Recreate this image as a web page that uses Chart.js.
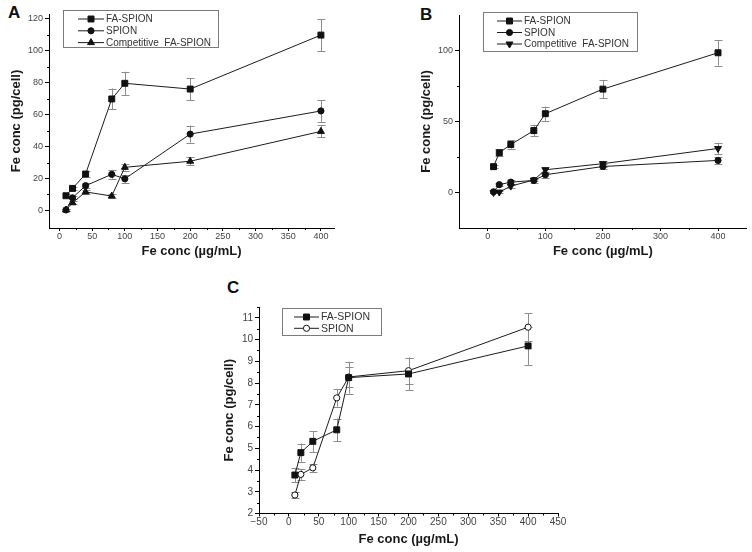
<!DOCTYPE html>
<html>
<head>
<meta charset="utf-8">
<script src="https://cdn.jsdelivr.net/npm/chart.js@4.4.0/dist/chart.umd.min.js"></script>
<style>
  body { margin: 0; background: #fff; width: 752px; height: 552px; position: relative; overflow: hidden; }
  .panel { position: absolute; }
  .letter { position: absolute; font: bold 17px 'Liberation Sans', Arial, sans-serif; color: #111; }
</style>
</head>
<body>
<div class="letter" style="left:8px;top:3px">A</div>
<div class="letter" style="left:420px;top:5px">B</div>
<div class="letter" style="left:227px;top:278px">C</div>

<div class="panel" style="left:0;top:0;width:376px;height:268px"><canvas id="chartA"></canvas></div>
<div class="panel" style="left:380px;top:0;width:372px;height:268px"><canvas id="chartB"></canvas></div>
<div class="panel" style="left:200px;top:270px;width:380px;height:282px"><canvas id="chartC"></canvas></div>

<script>
// values
var doses = [10, 20, 40, 80, 100, 200, 400];

// panel A
var aFa = [9.2, 13.8, 22.8, 69.8, 79.6, 76, 109.8];
var aFaErr = [0.8, 1, 1.8, 6.5, 7.2, 6.8, 10];
var aSpion = [0.3, 7.9, 15.5, 22.6, 19.8, 47.8, 62.3];
var aSpionErr = [0.5, 1, 1.5, 2.8, 2.5, 5.3, 6.8];
var aComp = [0.3, 4.8, 11.6, 9, 27, 30.8, 49.5];
var aCompErr = [0.5, 1, 1, 1, 2, 2.6, 3.8];

// panel B
var bFa = [18.2, 28, 33.8, 43.6, 55.5, 72.8, 98.4];
var bFaErr = [1, 2.5, 3, 4, 5, 6.5, 9];
var bSpion = [0.5, 5.5, 7.3, 8.5, 12.5, 18.3, 22.6];
var bSpionErr = [0.5, 1, 1.5, 1.5, 2, 2, 2.5];
var bComp = [0, 0.3, 4.5, 8.8, 16, 20.3, 31];
var bCompErr = [0.5, 0.5, 1, 1, 2, 2, 4];

// panel C
var cFa = [3.77, 4.8, 5.32, 5.85, 8.25, 8.42, 9.71];
var cFaErr = [0.32, 0.42, 0.48, 0.52, 0.73, 0.75, 0.87];
var cSpion = [2.85, 3.8, 4.1, 7.32, 8.28, 8.57, 10.57];
var cSpionErr = [0.15, 0.25, 0.2, 0.41, 0.46, 0.6, 0.65];

// tick labels
var aXTicks = [0, 50, 100, 150, 200, 250, 300, 350, 400];
var aXMinor = [25, 75, 125, 175, 225, 275, 325, 375];
var aYTicks = [0, 20, 40, 60, 80, 100, 120];
var aYMinor = [10, 30, 50, 70, 90, 110];
var bXTicks = [0, 100, 200, 300, 400];
var bXMinor = [50, 150, 250, 350];
var bYTicks = [0, 50, 100];
var bYMinor = [25, 75];
var cXTicks = [-50, 0, 50, 100, 150, 200, 250, 300, 350, 400, 450];
var cXMinor = [-25, 25, 75, 125, 175, 225, 275, 325, 375, 425];
var cYTicks = [2, 3, 4, 5, 6, 7, 8, 9, 10, 11];
var cYMinor = [2.5, 3.5, 4.5, 5.5, 6.5, 7.5, 8.5, 9.5, 10.5, 11.5];

var FONT = "'Liberation Sans', Arial, sans-serif";
Chart.defaults.font.family = FONT;
Chart.defaults.animation = false;

// vertical error bars, drawn under the markers
var errorBars = {
  id: 'errorBars',
  beforeDatasetsDraw: function(chart) {
    var ctx = chart.ctx, xs = chart.scales.x, ys = chart.scales.y;
    ctx.save();
    ctx.strokeStyle = '#8c8c8c';
    ctx.lineWidth = 1;
    chart.data.datasets.forEach(function(ds) {
      if (!ds.errors) return;
      ds.data.forEach(function(p, i) {
        var px = Math.round(xs.getPixelForValue(p.x)) + 0.5;
        var t = ys.getPixelForValue(p.y + ds.errors[i]);
        var b = ys.getPixelForValue(p.y - ds.errors[i]);
        ctx.beginPath();
        ctx.moveTo(px, t); ctx.lineTo(px, b);
        ctx.moveTo(px - 4, Math.round(t) + 0.5); ctx.lineTo(px + 4, Math.round(t) + 0.5);
        ctx.moveTo(px - 4, Math.round(b) + 0.5); ctx.lineTo(px + 4, Math.round(b) + 0.5);
        ctx.stroke();
      });
    });
    ctx.restore();
  }
};

// short minor ticks on both axes
var minorTicks = {
  id: 'minorTicks',
  afterDraw: function(chart, args, opts) {
    var ctx = chart.ctx, xs = chart.scales.x, ys = chart.scales.y, a = chart.chartArea;
    ctx.save();
    ctx.strokeStyle = '#000';
    ctx.lineWidth = 1;
    ctx.beginPath();
    (opts.x || []).forEach(function(v) {
      var px = Math.round(xs.getPixelForValue(v)) + 0.5;
      ctx.moveTo(px, a.bottom); ctx.lineTo(px, a.bottom + 2);
    });
    (opts.y || []).forEach(function(v) {
      var py = Math.round(ys.getPixelForValue(v)) + 0.5;
      ctx.moveTo(a.left, py); ctx.lineTo(a.left - 2, py);
    });
    ctx.stroke();
    ctx.restore();
  }
};

// framed legend inside the plot
var boxLegend = {
  id: 'boxLegend',
  afterDraw: function(chart, args, o) {
    var ctx = chart.ctx;
    ctx.save();
    ctx.strokeStyle = '#7a7a7a';
    ctx.lineWidth = 1;
    ctx.strokeRect(Math.round(o.x) + 0.5, Math.round(o.y) + 0.5, o.w, o.h);
    ctx.font = o.fontSize + 'px ' + FONT;
    ctx.textBaseline = 'middle';
    chart.data.datasets.forEach(function(ds, i) {
      var cy = o.y + o.first + i * o.row;
      ctx.strokeStyle = '#1c1c1c';
      ctx.beginPath();
      ctx.moveTo(o.lineX0, cy); ctx.lineTo(o.lineX1, cy);
      ctx.stroke();
      ctx.fillStyle = ds.pointBackgroundColor;
      ctx.strokeStyle = ds.pointBorderColor;
      Chart.helpers.drawPoint(ctx, {
        pointStyle: ds.pointStyle, rotation: ds.pointRotation,
        radius: ds.pointRadius, borderWidth: 1
      }, (o.lineX0 + o.lineX1) / 2, cy);
      ctx.fillStyle = '#333';
      ctx.fillText(ds.label, o.textX, cy + 0.5);
    });
    ctx.restore();
  }
};

function series(label, ys, errs, style, rot, fill) {
  var r = style === 'rect' ? 4.2 : (style === 'triangle' ? 4 : 3.1);
  return {
    label: label,
    data: doses.map(function(x, i) { return {x: x, y: ys[i]}; }),
    errors: errs,
    borderColor: '#1c1c1c',
    borderWidth: 1,
    pointStyle: style,
    pointRotation: rot || 0,
    pointRadius: r,
    pointBackgroundColor: fill || '#111',
    pointBorderColor: '#111',
    pointBorderWidth: 1,
    tension: 0
  };
}

function fmt(v) { return v < 0 ? '\u2212' + (-v) : String(v); }

function axis(c, dir) {
  var isX = dir === 'x';
  return {
    type: 'linear',
    min: c[dir + 'Min'],
    max: c[dir + 'Max'],
    afterBuildTicks: function(s) { s.ticks = c[dir + 'Ticks'].map(function(v) { return {value: v}; }); },
    afterFit: function(s) { if (isX) s.height = c.xH; else s.width = c.yW; },
    ticks: { callback: fmt, autoSkip: false, maxRotation: 0, color: '#444', font: {size: c.tickSize}, padding: isX ? 0 : 2 },
    grid: { drawOnChartArea: false, tickLength: isX ? 3 : 4, color: '#000', tickColor: '#000' },
    border: { color: '#000', width: 1 },
    title: {
      display: true,
      text: isX ? 'Fe conc (\u00b5g/mL)' : 'Fe conc (pg/cell)',
      color: '#1a1a1a',
      font: {size: 13, weight: 'bold'},
      padding: {top: 4, bottom: 4}
    }
  };
}

function makeChart(id, sets, c) {
  return new Chart(document.getElementById(id), {
    type: 'line',
    data: { datasets: sets },
    options: {
      responsive: true,
      maintainAspectRatio: false,
      layout: { padding: c.pad },
      scales: { x: axis(c, 'x'), y: axis(c, 'y') },
      plugins: {
        legend: { display: false },
        tooltip: { enabled: false },
        minorTicks: { x: c.xMinor, y: c.yMinor },
        boxLegend: c.legend
      }
    },
    plugins: [errorBars, minorTicks, boxLegend]
  });
}

makeChart('chartA', [
  series('FA-SPION', aFa, aFaErr, 'rect'),
  series('SPION', aSpion, aSpionErr, 'circle'),
  series('Competitive  FA-SPION', aComp, aCompErr, 'triangle')
], {
  xMin: -16, xMax: 420, xTicks: aXTicks, xMinor: aXMinor,
  yMin: -11, yMax: 123, yTicks: aYTicks, yMinor: aYMinor,
  xH: 35, yW: 44, tickSize: 9,
  pad: {left: 5, top: 14, right: 42, bottom: 5},
  legend: {x: 63, y: 10, w: 155, h: 37, first: 9, row: 11.8, lineX0: 78, lineX1: 104, textX: 106, fontSize: 10}
});

makeChart('chartB', [
  series('FA-SPION', bFa, bFaErr, 'rect'),
  series('SPION', bSpion, bSpionErr, 'circle'),
  series('Competitive  FA-SPION', bComp, bCompErr, 'triangle', 180)
], {
  xMin: -50, xMax: 450, xTicks: bXTicks, xMinor: bXMinor,
  yMin: -25, yMax: 125, yTicks: bYTicks, yMinor: bYMinor,
  xH: 35, yW: 44, tickSize: 9,
  pad: {left: 35, top: 15, right: 5, bottom: 5},
  legend: {x: 103, y: 12, w: 154, h: 39, first: 9, row: 11.5, lineX0: 117, lineX1: 142, textX: 144, fontSize: 10}
});

makeChart('chartC', [
  series('FA-SPION', cFa, cFaErr, 'rect'),
  series('SPION', cSpion, cSpionErr, 'circle', 0, '#fff')
], {
  xMin: -50, xMax: 450, xTicks: cXTicks, xMinor: cXMinor,
  yMin: 2, yMax: 11.5, yTicks: cYTicks, yMinor: cYMinor,
  xH: 37.5, yW: 41, tickSize: 10,
  pad: {left: 18, top: 37, right: 22, bottom: 1},
  legend: {x: 82, y: 38, w: 99, h: 27, first: 9, row: 11.3, lineX0: 94, lineX1: 119, textX: 121, fontSize: 10.5}
});
</script>
</body>
</html>
